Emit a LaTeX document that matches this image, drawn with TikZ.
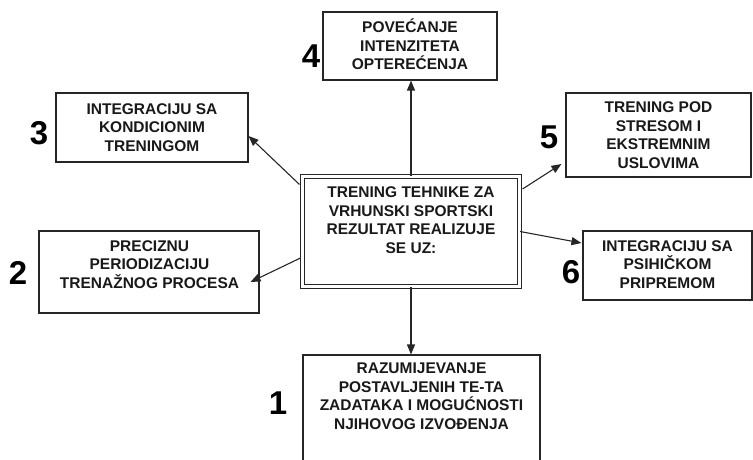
\documentclass[tikz,border=0pt]{standalone}
\usepackage{fontspec}
\setmainfont{Liberation Sans}
\usetikzlibrary{arrows.meta,calc}
\begin{document}
\begin{tikzpicture}[x=1pt,y=-1pt,
  box/.style={draw=black!85, line width=1.1pt, inner sep=0pt, fill=white},
  dbox/.style={draw=black!85, line width=1.1pt, double=white, double distance=3.6pt, inner sep=0pt},
  txt/.style={font=\bfseries\fontsize{15.5}{18.5}\selectfont, align=center, inner sep=0pt, anchor=base, text=black!90},
  num/.style={font=\bfseries\fontsize{33}{33}\selectfont, inner sep=0pt, text=black},
  arr/.style={draw=black!85, line width=1.1pt, -{Triangle[length=10pt,width=8pt]}}]
\useasboundingbox (0,0) rectangle (753,460);
\clip (0,0) rectangle (753,460);

% boxes
\node[box, minimum width=174pt, minimum height=68pt] (b4) at (410,46) {};
\node[box, minimum width=192pt, minimum height=69pt] (b3) at (152,127.5) {};
\node[box, minimum width=185pt, minimum height=84pt] (b5) at (658.5,135) {};
\node[box, minimum width=169pt, minimum height=69pt] (b6) at (667.5,265.5) {};
\node[box, minimum width=220pt, minimum height=82pt] (b2) at (149,272) {};
\node[box, minimum width=237pt, minimum height=120pt] (b1) at (421.5,415) {};
\node[dbox, minimum width=217pt, minimum height=110pt] (c) at (411,231.5) {};

% texts (anchor = baseline of the last line)
\node[txt] (tc) at (411,253) {TRENING TEHNIKE ZA\\VRHUNSKI SPORTSKI\\REZULTAT REALIZUJE\\SE UZ:};
\node[txt] (t4) at (410,70) {POVEĆANJE\\INTENZITETA\\OPTEREĆENJA};
\node[txt] (t3) at (152,151) {INTEGRACIJU SA\\KONDICIONIM\\TRENINGOM};
\node[txt] (t5) at (658.5,168) {TRENING POD\\STRESOM I\\EKSTREMNIM\\USLOVIMA};
\node[txt] (t6) at (667.5,288) {INTEGRACIJU SA\\PSIHIČKOM\\PRIPREMOM};
\node[txt] (t2) at (149.5,288) {PRECIZNU\\PERIODIZACIJU\\TRENAŽNOG PROCESA};
\node[txt] (t1) at (421.5,429) {RAZUMIJEVANJE\\POSTAVLJENIH TE-TA\\ZADATAKA I MOGUĆNOSTI\\NJIHOVOG IZVOĐENJA};

% numbers
\node[num] (n4) at (311,56) {4};
\node[num] (n3) at (39,133) {3};
\node[num] (n5) at (549,137) {5};
\node[num] (n2) at (18,273) {2};
\node[num] (n6) at (571,272) {6};
\node[num] (n1) at (278,403) {1};

% connector end points
\coordinate (s3) at ($(c.north west)+(-2.5,8.5)$);
\coordinate (e3) at ($(b3.east)+(0,8.5)$);
\coordinate (s2) at ($(c.west)+(-1.5,26.5)$);
\coordinate (e2) at ($(b2.east)+(-9,10)$);
\coordinate (s5) at ($(c.east)+(2.5,-42.5)$);
\coordinate (e5) at ($(b5.west)+(-4,29)$);
\coordinate (e6) at ($(b6.west)+(-1,-22.5)$);

% connectors
\draw[arr] (c.north) -- (c.north |- b4.south);
\draw[arr] (c.south) -- (c.south |- b1.north);
\draw[arr] (s3) -- (e3);
\draw[arr] (s2) -- (e2);
\draw[arr] (s5) -- (e5);
\draw[arr] (c.east) -- (e6);
\end{tikzpicture}
\end{document}
